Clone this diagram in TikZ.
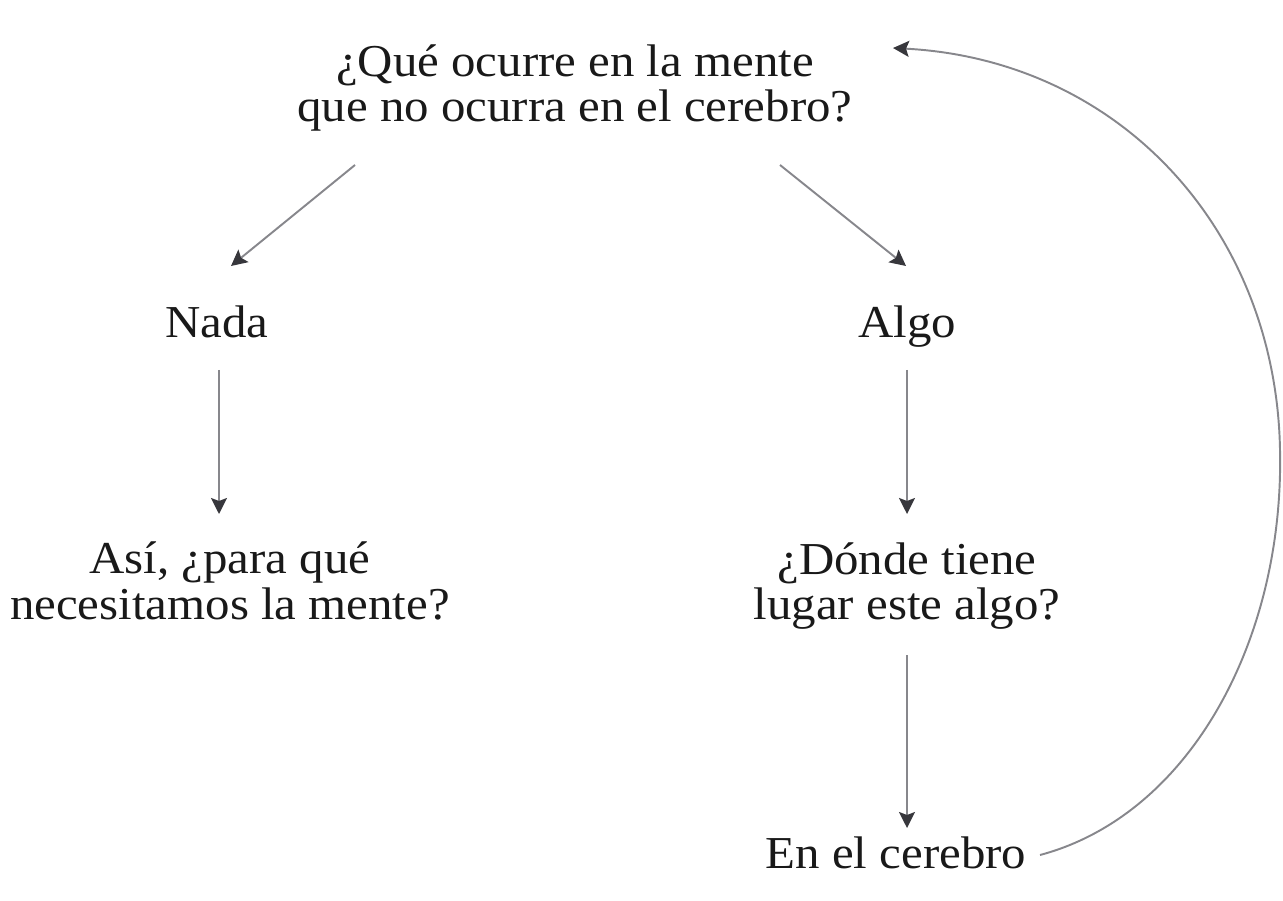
\documentclass[tikz,border=0pt]{standalone}
\usepackage{fontspec}
\setmainfont[FakeStretch=1.07]{Liberation Serif}
\usetikzlibrary{arrows.meta}
\definecolor{linegray}{RGB}{135,135,140}
\definecolor{tipgray}{RGB}{55,55,60}
\definecolor{txt}{RGB}{25,25,25}
\begin{document}
\begin{tikzpicture}[x=0.02cm,y=-0.02cm,
  lbl/.style={inner sep=0pt, align=center, text=txt, font=\fontsize{26}{26}\selectfont},
  conn/.style={draw=linegray, line width=1.1pt, -{Stealth[length=0.32cm,width=0.32cm,inset=0.06cm,color=tipgray]}}]
\useasboundingbox (0,0) rectangle (1283,901);
\node[lbl] (q) at (575,88) {¿Qué ocurre en la mente\\que no ocurra en el cerebro?};
\node[lbl,anchor=base] (nada) at (217,338) {Nada};
\node[lbl,anchor=base] (algo) at (907,338) {Algo};
\node[lbl] (asi) at (230,581) {Así, ¿para qué\\necesitamos la mente?};
\node[lbl] (donde) at (907,586) {¿Dónde tiene\\lugar este algo?};
\node[lbl,anchor=base] (cer) at (896,868) {En el cerebro};
\coordinate (a1s) at (355,165); \coordinate (a1e) at (231,266);
\coordinate (a2s) at (780,165); \coordinate (a2e) at (906,266);
\draw[conn] (a1s) -- (a1e);
\draw[conn] (a2s) -- (a2e);
\coordinate (a3s) at (219,370); \coordinate (a3e) at (219,514);
\coordinate (a4s) at (907,370); \coordinate (a4e) at (907,514);
\coordinate (a5s) at (907,655); \coordinate (a5e) at (907,828);
\draw[conn] (a3s) -- (a3e);
\draw[conn] (a4s) -- (a4e);
\draw[conn] (a5s) -- (a5e);
\coordinate (cs) at (1040,855);
\coordinate (cm) at (1280,450);
\coordinate (ce) at (893,48);
\draw[conn] (cs) .. controls (1190,815) and (1284,640) .. (cm)
  .. controls (1276,230) and (1120,60) .. (ce);
\end{tikzpicture}
\end{document}
